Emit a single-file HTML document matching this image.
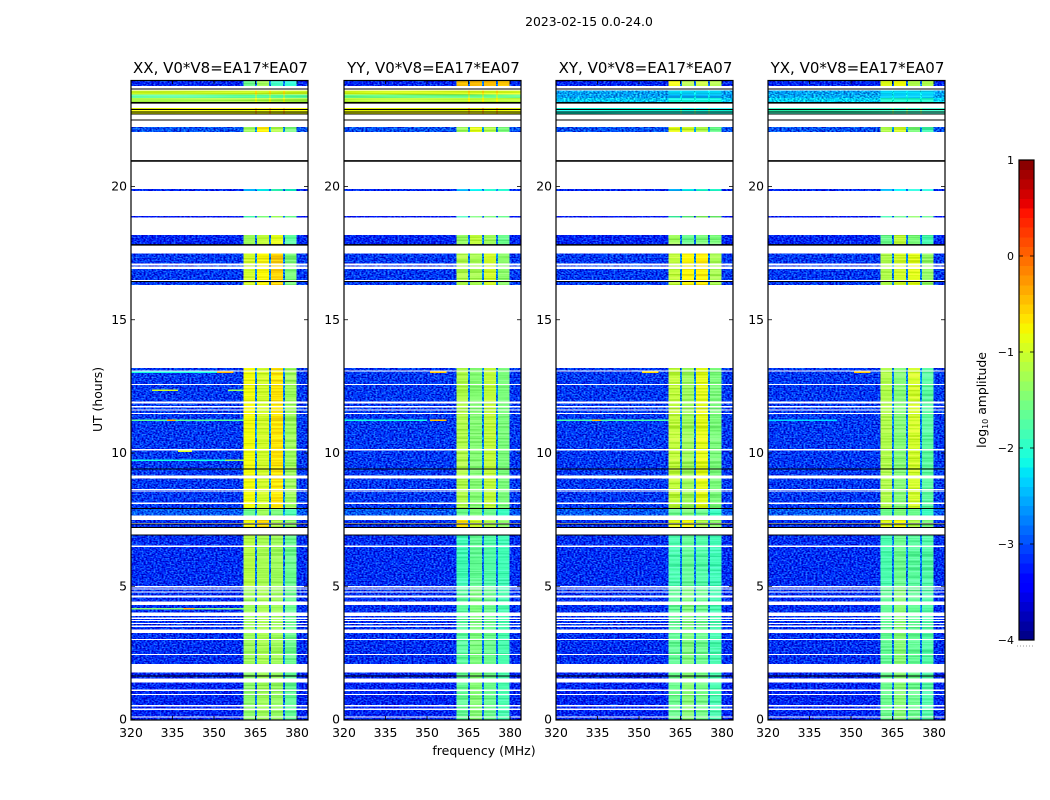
<!DOCTYPE html>
<html>
<head>
<meta charset="utf-8">
<title>Waterfall 2023-02-15</title>
<style>
html,body{margin:0;padding:0;background:#fff;}
svg{display:block;font-family:"DejaVu Sans","Liberation Sans",sans-serif;fill:#000;}
</style>
</head>
<body>
<svg id="chart" xmlns="http://www.w3.org/2000/svg" width="1050" height="800" viewBox="0 0 1050 800">
<defs>
<filter id="speckle" filterUnits="userSpaceOnUse" x="0" y="0" width="1050" height="800" color-interpolation-filters="sRGB">
<feTurbulence type="fractalNoise" baseFrequency="0.5 0.7" numOctaves="1" seed="3" result="n"/>
<feColorMatrix in="n" type="matrix" values="3 0 0 0 -1.3 3 0 0 0 -1 3 0 0 0 -1 0 0 0 0 1" result="g"/>
<feComposite in="SourceGraphic" in2="g" operator="arithmetic" k1="0" k2="1" k3="0.5" k4="-0.25" result="m"/>
<feComposite in="m" in2="SourceAlpha" operator="in"/>
</filter>
<filter id="streak" filterUnits="userSpaceOnUse" x="0" y="0" width="1050" height="800" color-interpolation-filters="sRGB">
<feTurbulence type="fractalNoise" baseFrequency="0.008 0.6" numOctaves="1" seed="7" result="n"/>
<feColorMatrix in="n" type="matrix" values="3 0 0 0 -1 3 0 0 0 -1 3 0 0 0 -1 0 0 0 0 1" result="g"/>
<feComposite in="SourceGraphic" in2="g" operator="arithmetic" k1="0" k2="1" k3="0.22" k4="-0.11" result="m"/>
<feComposite in="m" in2="SourceAlpha" operator="in"/>
</filter>
</defs>
<text x="589" y="26" font-size="12.4" text-anchor="middle">2023-02-15 0.0-24.0</text>
<text x="484" y="755" font-size="12.5" text-anchor="middle">frequency (MHz)</text>
<text transform="translate(102,399.5) rotate(-90)" font-size="12.4" text-anchor="middle">UT (hours)</text>
<text transform="translate(986,400) rotate(-90)" font-size="12.4" text-anchor="middle">log<tspan font-size="8" dy="2">10</tspan><tspan dy="-2"> amplitude</tspan></text>
<g id="panels"></g>
<g id="colorbar"></g>
</svg>
<script>
// Panels
const panelTitles = ["XX, V0*V8=EA17*EA07", "YY, V0*V8=EA17*EA07", "XY, V0*V8=EA17*EA07", "YX, V0*V8=EA17*EA07"];
const panelKeys = ["xx", "yy", "xy", "yx"];
// Axis tick labels
const xTicks = [320, 335, 350, 365, 380];
const yTicks = [0, 5, 10, 15, 20];
const colorbarTicks = [1, 0, -1, -2, -3, -4];
// Frequency bands in MHz: off-band, band 1, notch, band 2, notch, band 3, notch, band 4, off-band
const bandEdges = [320, 360.6, 364.9, 365.6, 369.9, 370.6, 375.0, 375.6, 379.8, 384];
// Which level column (0 = off-band, 1-4 = passbands) each frequency band uses
const bandLevelIndex = [0, 1, 0, 2, 0, 3, 0, 4, 0];
// Observed time rows: start UT, end UT, zone number
const timeRows = [
[0,0.07,0],[0.11,0.36,0],[0.42,0.48,0],[0.54,0.92,0],[0.96,1.07,0],[1.13,1.38,0],[1.53,1.76,0],
[2.09,2.42,1],[2.46,2.99,1],[3.03,3.25,1],[3.38,3.48,1],[3.52,3.58,1],[3.63,3.70,1],[3.73,3.78,1],[3.82,3.88,1],[4.01,4.29,1],[4.42,4.57,1],[4.66,4.77,1],[4.81,4.87,1],[4.91,4.96,1],
[5.01,6.48,2],[6.52,6.90,2],
[7.18,7.36,3],[7.38,7.49,3],
[7.65,7.90,4],[7.90,8.09,5],
[8.14,8.53,5],[8.56,8.60,5],[8.64,9.04,5],[9.15,10.10,5],[10.15,11.46,5],[11.51,11.59,5],[11.64,11.71,5],[11.77,11.86,5],[11.93,12.55,5],[12.59,13.05,5],[13.09,13.19,5],
[16.30,16.41,6],[16.49,16.90,6],[16.99,17.04,6],[17.12,17.49,6],
[17.81,18.18,7],
[18.84,18.89,8],
[19.84,19.90,9],
[22.04,22.23,10],
[22.70,22.95,11],
[23.17,23.33,12],[23.33,23.46,13],[23.46,23.60,14],
[23.77,24,15]
];
// Log10 amplitude per zone: off-band, band 1, band 2, band 3, band 4
const levelsXX = [
[-3.2,-1.4,-1.3,-1.35,-1.65],[-3.15,-1.3,-1.25,-1.3,-1.6],[-3.15,-1.15,-1.25,-1.3,-1.6],[-3.15,-0.8,-0.6,-1.2,-1.4],
[-2.95,-1.6,-1.3,-1.5,-1.8],[-3.1,-0.8,-1.0,-0.65,-1.3],[-3.1,-1.0,-0.75,-0.55,-1.5],[-3.2,-1.3,-1.1,-0.9,-1.7],
[-3.3,-1.8,-1.5,-1.3,-1.6],[-3.2,-2.5,-2.2,-1.9,-2.0],[-3.0,-1.3,-0.7,-1.2,-1.5],[-0.8,-0.8,-0.8,-0.8,-0.8],
[-1.2,-1.2,-1.2,-1.2,-1.2],[-1.7,-1.7,-1.7,-1.7,-1.7],[-1.0,-1.0,-1.0,-1.0,-1.0],[-3.2,-1.6,-1.3,-1.9,-2.0]
];
const levelsYY = [
[-3.2,-1.65,-1.45,-1.6,-1.8],[-3.15,-1.7,-1.5,-1.6,-1.8],[-3.15,-1.85,-1.65,-1.75,-1.85],[-3.15,-0.65,-1.0,-1.2,-1.4],
[-2.95,-1.6,-1.5,-1.6,-1.9],[-3.1,-1.2,-1.45,-1.1,-1.5],[-3.1,-1.2,-1.25,-1.0,-1.4],[-3.2,-1.35,-1.1,-1.3,-1.6],
[-3.3,-1.8,-1.5,-1.5,-1.6],[-3.2,-2.5,-2.2,-2.0,-2.0],[-3.0,-1.3,-0.9,-1.2,-1.5],[-0.8,-0.8,-0.8,-0.8,-0.8],
[-1.1,-1.1,-1.1,-1.1,-1.1],[-1.6,-1.6,-1.6,-1.6,-1.6],[-0.95,-0.95,-0.95,-0.95,-0.95],[-3.2,-0.5,-0.45,-0.45,-0.5]
];
const levelsXY = [
[-3.2,-1.6,-1.45,-1.55,-1.8],[-3.15,-1.65,-1.5,-1.6,-1.8],[-3.15,-1.8,-1.65,-1.75,-1.85],[-3.15,-0.9,-0.8,-1.2,-1.4],
[-2.95,-1.6,-1.5,-1.6,-1.9],[-3.1,-1.1,-1.3,-0.9,-1.5],[-3.1,-1.1,-0.75,-0.7,-1.25],[-3.2,-1.3,-1.6,-1.5,-1.5],
[-3.3,-1.8,-1.6,-1.4,-1.5],[-3.2,-2.5,-2.2,-2.0,-2.0],[-3.0,-0.9,-1.0,-1.2,-1.6],[-2.1,-2.1,-2.1,-2.1,-2.1],
[-2.4,-2.1,-2.1,-2.1,-2.1],[-2.6,-2.5,-2.5,-2.5,-2.5],[-2.6,-2.3,-2.3,-2.3,-2.3],[-3.2,-0.85,-1.2,-1.1,-1.2]
];
const levelsYX = [
[-3.2,-1.6,-1.45,-1.6,-1.75],[-3.15,-1.65,-1.45,-1.65,-1.75],[-3.15,-1.8,-1.6,-1.7,-1.75],[-3.15,-0.9,-0.8,-1.2,-1.5],
[-2.95,-1.6,-1.5,-1.6,-1.9],[-3.1,-1.2,-1.45,-1.0,-1.7],[-3.1,-1.2,-1.0,-0.9,-1.35],[-3.2,-1.6,-1.1,-1.5,-1.8],
[-3.3,-1.8,-1.6,-1.4,-1.6],[-3.2,-2.5,-2.2,-2.0,-2.0],[-3.0,-1.2,-1.0,-1.5,-1.8],[-1.9,-1.9,-1.9,-1.9,-1.9],
[-2.35,-2.0,-2.0,-2.0,-2.0],[-2.55,-2.4,-2.4,-2.4,-2.4],[-2.6,-2.3,-2.3,-2.3,-2.3],[-3.2,-0.9,-0.8,-1.2,-1.2]
];
const panelLevels = [levelsXX, levelsYY, levelsXY, levelsYX];
// Narrow interference streaks: UT, start MHz, end MHz, level
const rfiXX = [[13.03,351,357,-0.4],[13.03,320,351,-2.1],[12.35,327.6,337,-1.0],[12.35,355,360.6,-1.3],[11.23,320,360.6,-1.7],[11.23,333,336,-0.4],[9.73,320,360.6,-2.1],[9.73,354,360.6,-1.3],[10.07,337,342,-0.9],[4.15,320,360.6,-1.4],[4.15,339,343,-0.5]];
const rfiYY = [[13.03,351,357,-0.5],[11.23,320,350,-2.1],[11.23,351,357,-0.5]];
const rfiXY = [[13.03,351,357,-0.6],[11.23,320,360.6,-1.8],[11.23,333,336,-0.5]];
const rfiYX = [[13.03,351,357,-0.5],[11.23,320,345,-2.3]];
const panelRfi = [rfiXX, rfiYY, rfiXY, rfiYX];
// Black flag lines (UT)
const thinLines = [23.65, 22.89, 22.79, 22.72, 22.5, 16.44, 9.4, 7.91, 7.33, 7.2, 6.92, 1.63];
const thickLines = [23.14, 20.96, 17.81];
const colorbarLevels = [-4,-3.9,-3.8,-3.7,-3.6,-3.5,-3.4,-3.3,-3.2,-3.1,-3,-2.9,-2.8,-2.7,-2.6,-2.5,-2.4,-2.3,-2.2,-2.1,-2,-1.9,-1.8,-1.7,-1.6,-1.5,-1.4,-1.3,-1.2,-1.1,-1,-0.9,-0.8,-0.7,-0.6,-0.5,-0.4,-0.3,-0.2,-0.1,0,0.1,0.2,0.3,0.4,0.5,0.6,0.7,0.8,0.9];

const NS = "http://www.w3.org/2000/svg";
const panelLeft = [131, 344, 556, 768];
const panelWidth = 177, panelTop = 80, panelBottom = 720;
const yOf = ut => 719.5 - ut * 26.65;
const xOf = (left, f) => left + (f - 320) * 2.767;
function ramp(t, pts) {
  if (t <= pts[0][0]) return pts[0][1];
  for (let i = 1; i < pts.length; i++) {
    if (t <= pts[i][0]) {
      const a = pts[i-1], b = pts[i];
      return a[1] + (b[1]-a[1]) * (t-a[0]) / (b[0]-a[0]);
    }
  }
  return pts[pts.length-1][1];
}
function jet(v) {
  const t = Math.max(0, Math.min(1, (v + 4) / 5));
  const r = ramp(t, [[0.35,0],[0.66,1],[0.89,1],[1,0.5]]);
  const g = ramp(t, [[0.125,0],[0.375,1],[0.64,1],[0.91,0]]);
  const b = ramp(t, [[0,0.5],[0.11,1],[0.34,1],[0.65,0]]);
  return "rgb(" + Math.round(r*255) + "," + Math.round(g*255) + "," + Math.round(b*255) + ")";
}
function make(tag, attrs, parent) {
  const el = document.createElementNS(NS, tag);
  for (const k in attrs) el.setAttribute(k, attrs[k]);
  parent.appendChild(el);
  return el;
}
const panelsRoot = document.getElementById("panels");
panelTitles.forEach((title, p) => {
  const left = panelLeft[p];
  const right = left + panelWidth;
  const g = make("g", {}, panelsRoot);
  
  
  const offG = make("g", {filter: "url(#speckle)", "shape-rendering": "crispEdges"}, g);
  
  
  const inG = make("g", {filter: "url(#streak)", "shape-rendering": "crispEdges"}, g);
  
  
  timeRows.forEach(row => {
    const levels = panelLevels[p][row[2]];
    for (let b = 0; b < bandLevelIndex.length; b++) {
      const li = bandLevelIndex[b];
      const x0 = xOf(left, bandEdges[b]);
      const x1 = Math.min(right, xOf(left, bandEdges[b+1]));
      const y0 = yOf(row[1]);
      const y1 = yOf(row[0]);
      const notch = li === 0 && b > 0 && b < 8;
      const v = notch ? levels[0] + 0.35 : levels[li];
      const target = (li === 0 && levels[0] < -2.3) ? offG : inG;
      const cell = make("rect", {x: x0, y: y0, width: x1 - x0, height: Math.max(1, y1 - y0), fill: jet(v)}, target);
      
      
    }
  });
  panelRfi[p].forEach(r => {
    const streak = make("rect", {x: xOf(left, r[1]), y: yOf(r[0]) - 0.7, width: xOf(left, r[2]) - xOf(left, r[1]), height: 1.4, fill: jet(r[3]), "shape-rendering": "crispEdges"}, g);
    
    
  });
  thinLines.forEach(ut => {
    const l = make("line", {x1: left, x2: right, y1: yOf(ut), y2: yOf(ut), stroke: "#000", "stroke-width": 1, "shape-rendering": "crispEdges"}, g);
    
    
  });
  thickLines.forEach(ut => {
    const l = make("line", {x1: left, x2: right, y1: yOf(ut), y2: yOf(ut), stroke: "#000", "stroke-width": 1.6}, g);
    
    
  });
  const frame = make("rect", {x: left, y: panelTop + 0.5, width: panelWidth, height: panelBottom - panelTop - 0.5, fill: "none", stroke: "#000", "stroke-width": 1.2}, g);
  
  
  const titleEl = make("text", {x: left + panelWidth / 2 + 1, y: 73, "font-size": 15, "text-anchor": "middle"}, g);
  titleEl.textContent = title;
  
  
  xTicks.forEach(t => {
    const x = xOf(left, t);
    const tb = make("line", {x1: x, x2: x, y1: panelBottom, y2: panelBottom - 4, stroke: "#000", "stroke-width": 0.8}, g);
    
    
    const tt = make("line", {x1: x, x2: x, y1: panelTop, y2: panelTop + 4, stroke: "#000", "stroke-width": 0.8}, g);
    
    
    const lab = make("text", {x: x, y: panelBottom + 17, "font-size": 12.4, "text-anchor": "middle"}, g);
    lab.textContent = t;
    
    
  });
  yTicks.forEach(t => {
    const y = yOf(t);
    const tl = make("line", {x1: left, x2: left + 4, y1: y, y2: y, stroke: "#000", "stroke-width": 0.8}, g);
    
    
    const tr = make("line", {x1: right - 4, x2: right, y1: y, y2: y, stroke: "#000", "stroke-width": 0.8}, g);
    
    
    const lab = make("text", {x: left - 4, y: y + 4, "font-size": 12.4, "text-anchor": "end"}, g);
    lab.textContent = t;
    
    
  });
});
// Colorbar
const cb = document.getElementById("colorbar");
const cbX = 1019, cbW = 15;
const cbY = v => 640 - (v + 4) * 96;
colorbarLevels.forEach(v => {
  const r = make("rect", {x: cbX, y: cbY(v + 0.1), width: cbW, height: 9.6 + 0.5, fill: jet(v + 0.05), "shape-rendering": "crispEdges"}, cb);
  
  
});
const cbFrame = make("rect", {x: cbX, y: 160, width: cbW, height: 480, fill: "none", stroke: "#000", "stroke-width": 1.2}, cb);


colorbarTicks.forEach(t => {
  const y = cbY(t);
  const a = make("line", {x1: cbX, x2: cbX + 4, y1: y, y2: y, stroke: "#000", "stroke-width": 0.8}, cb);
  
  
  const c = make("line", {x1: cbX + cbW - 4, x2: cbX + cbW, y1: y, y2: y, stroke: "#000", "stroke-width": 0.8}, cb);
  
  
  const lab = make("text", {x: cbX - 5, y: y + 4, "font-size": 11, "text-anchor": "end"}, cb);
  lab.textContent = t < 0 ? "\u2212" + Math.abs(t) : String(t);
  
  
});
const dots = make("line", {x1: 1017, x2: 1035, y1: 646, y2: 646, stroke: "#999", "stroke-width": 1, "stroke-dasharray": "1 2"}, cb);


</script>
</body>
</html>
